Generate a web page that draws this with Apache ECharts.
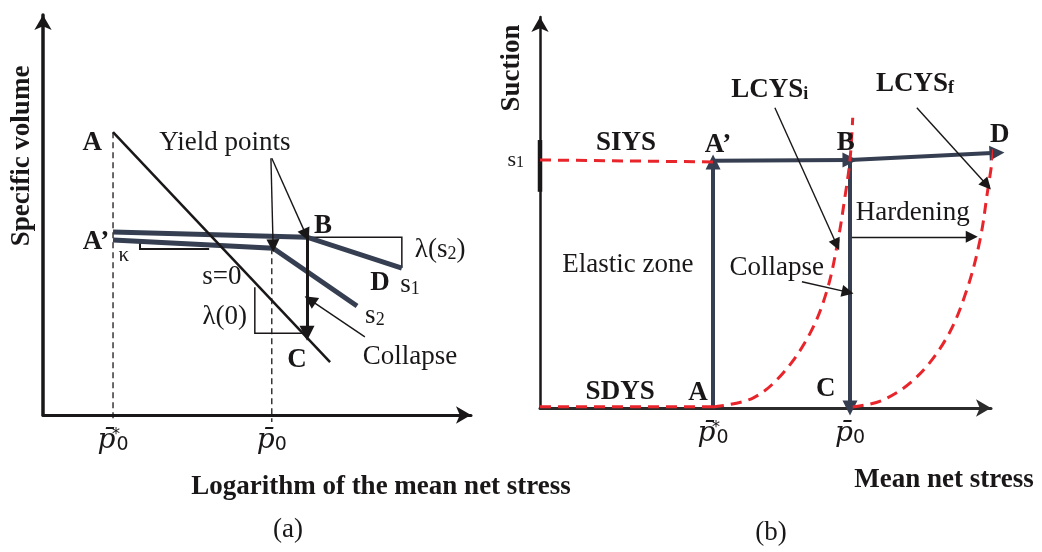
<!DOCTYPE html>
<html><head><meta charset="utf-8">
<script src="https://cdn.jsdelivr.net/npm/echarts@6/dist/echarts.min.js"></script>
<style>html,body{margin:0;padding:0;background:#fff}#c{width:1042px;height:552px}</style>
</head><body><div id="c"></div>
<script>
// ================= DATA =================
// Panel (a): specific volume vs log mean net stress (axis units 0..100)
const aTickValues = [16.1, 52.6];          // p0*, p0
const aTickNames  = ['p0*', 'p0'];
const aLineSat    = [[16.1, 69.5], [66.0, 13.0]];               // s = 0 (A -> C)
const aLineS1     = [[16.1, 45.0], [60.7, 43.7], [82.5, 36.1]]; // s1 (A' -> B -> D)
const aLineS2     = [[16.1, 43.0], [52.9, 41.0], [72.2, 26.8]]; // s2
const aDashP0s    = [[16.1, 69.5], [16.1, -1.7]];
const aDashP0     = [[52.6, 41.0], [52.6, -1.7]];
const aTriLambda0 = [[48.7, 31.4], [48.7, 20.1], [60.9, 20.1]];
const aTriLambdaS = [[60.7, 43.7], [82.5, 43.7], [82.5, 36.1]];
const aTriKappa   = [[22.3, 42.6], [22.3, 40.8], [38.2, 40.8]];
const aCollapseBC = [[[60.7, 43.7], [60.7, 20.1]]];
const aYieldArrows = [[[52.4, 63.1], [52.9, 41.6]], [[52.6, 63.1], [60.5, 44.2]]];
const aCollapseArrow = [[[74.0, 19.2], [61.4, 28.3]]];
const aNotes = [
  ['A', 11.3, 66.8, 'b'], ['A\u2019', 12.2, 42.5, 'b'], ['\u03ba', 18.6, 39.1, 'k'],
  ['Yield points', 41.8, 66.8, 'r'], ['B', 64.4, 46.4, 'b'], ['\u03bb(s_2)', 91.3, 40.5, 'r'],
  ['D', 77.5, 32.4, 'b'], ['s_1', 84.4, 31.9, 'r'], ['s=0', 41.1, 33.9, 'r'],
  ['\u03bb(0)', 41.8, 24.1, 'r'], ['s_2', 76.3, 24.3, 'r'], ['C', 58.4, 13.5, 'b'],
  ['Collapse', 84.4, 14.3, 'r']
];

// Panel (b): suction vs mean net stress (axis units 0..100)
const bTickValues = [37.8, 67.7];
const bTickNames  = ['p0*', 'p0'];
const bSuctionValues = [62.3];
const bSuctionNames  = ['s_1'];
const bSIYS   = [[0, 62.3], [37.8, 61.8]];
const bSDYS   = [[0, 0.3], [37.8, 0.3]];
const bLCYSi  = [[37.8, 0.25], [46.5, 2.5], [53.1, 8.8], [59.0, 18.8], [62.7, 29.6], [65.1, 42.2], [66.6, 53.0], [67.7, 62.3], [68.3, 72.9]];
const bLCYSf  = [[68.3, 0.25], [74.9, 2.0], [82.3, 7.8], [88.9, 17.8], [93.2, 29.6], [96.1, 42.2], [97.8, 54.8], [99.1, 64.8], [99.8, 71.6]];
const bStressPath = [
  [[37.8, 0], [37.8, 61.8]],     // A -> A'
  [[37.8, 62.1], [67.7, 62.3]],  // A' -> B
  [[67.7, 62.3], [99.8, 64.1]],  // B -> D
  [[67.7, 62.3], [67.7, 0]]      // B -> C
];
const bThinArrows = [
  [[51.3, 75.4], [64.8, 41.0]],  // LCYSi
  [[82.3, 75.4], [97.6, 56.0]],  // LCYSf
  [[68.1, 43.0], [94.3, 43.0]],  // Hardening
  [[57.2, 31.7], [67.2, 29.1]]   // Collapse
];
const bAxisThick = [[0, 54.3], [0, 67.3]];
const bNotes = [
  ['SIYS', 18.8, 66.6, 'b'], ['A\u2019', 38.9, 66.1, 'b'], ['B', 66.8, 66.6, 'b'], ['D', 100.4, 68.6, 'b'],
  ['LCYS_i', 50.2, 79.9, 'b'], ['LCYS_f', 81.9, 81.4, 'b'], ['Hardening', 81.4, 49.0, 'r'],
  ['Elastic zone', 19.2, 35.9, 'r'], ['Collapse', 51.7, 35.2, 'r'], ['SDYS', 17.5, 4.0, 'b'],
  ['A', 34.5, 3.8, 'b'], ['C', 62.4, 4.8, 'b']
];

const titles = [
  ['Specific volume', 22, 156, true], ['Logarithm of the mean net stress', 381, 487, false],
  ['Suction', 512, 68, true], ['Mean net stress', 944, 480, false]
];
const captions = [['(a)', 288, 530], ['(b)', 771, 533]];

// ================= STYLE / BUILD =================
const FONT = '"Liberation Serif", "Times New Roman", serif';
const INK = '#1a1718', BLUE = '#353f51', RED = '#e8252b';

function tok(size, weight, extra) {
  return Object.assign({ fontFamily: FONT, fontSize: size, fontWeight: weight || 'normal', color: INK,
    textBorderWidth: 0, opacity: 1, verticalAlign: 'bottom' }, extra || {});
}
const richBase = {
  r: tok(27), rsub: tok(18), b: tok(27, 'bold'), bsub: tok(18, 'bold'), k: tok(21), ksub: tok(14)
};
function toRich(t, w) {
  return t.split(/_(.)/).map((p, k) => p === '' ? '' : (k % 2 ? `{${w}sub|${p}}` : `{${w}|${p}}`)).join('');
}
const pRich = {
  p: { fontFamily: '"DejaVu Serif", serif', fontStyle: 'italic', fontSize: 28, color: INK, verticalAlign: 'bottom' },
  z: { fontFamily: '"DejaVu Sans", sans-serif', fontSize: 19, color: INK, verticalAlign: 'bottom' },
  st: { fontFamily: '"DejaVu Sans", sans-serif', fontSize: 16, color: INK, verticalAlign: 'top', width: 1, align: 'left' }
};
function pLabel(name) {
  return name === 'p0*' ? '{p|p\u0304}{st|*}{z|0}' : '{p|p\u0304}{z|0}';
}

function lineS(gi, data, color, width, type, smooth, z) {
  return { type: 'line', xAxisIndex: gi, yAxisIndex: gi, data, symbol: 'none', smooth: smooth || false,
    clip: false, silent: true, z: z || 2, animation: false,
    lineStyle: { color, width, type: type || 'solid', cap: 'butt', join: 'miter' } };
}
function arrowS(gi, segs, color, width, size, z) {
  return { type: 'lines', coordinateSystem: 'cartesian2d', xAxisIndex: gi, yAxisIndex: gi,
    data: segs.map(s => ({ coords: s })), symbol: ['none', 'triangle'], symbolSize: size,
    clip: false, silent: true, z: z || 3, animation: false,
    lineStyle: { color, width, opacity: 1, curveness: 0 } };
}
function notesS(gi, notes) {
  return { type: 'scatter', xAxisIndex: gi, yAxisIndex: gi, symbolSize: 0, clip: false, silent: true, z: 10,
    animation: false, itemStyle: { color: INK, opacity: 1 },
    data: notes.map(n => ({ value: [n[1], n[2]], name: n[0], w: n[3] })),
    label: { show: true, position: [0, 0], align: 'center', verticalAlign: 'middle', opacity: 1,
      color: INK, textBorderWidth: 0, rich: richBase,
      formatter: p => toRich(p.data.name, p.data.w) } };
}

function axisPair(gi, xMax, yMax, xTicks, xNames, yTicks, yNames, xW, yW, xColor) {
  const x = { type: 'value', gridIndex: gi, min: 0, max: xMax, splitLine: { show: false },
    axisTick: { show: false },
    axisLine: { show: true, onZero: false, symbol: ['none', 'arrow'], symbolSize: [13, 15],
      lineStyle: { color: xColor, width: xW } },
    axisLabel: { show: true, customValues: xTicks, margin: 12, color: INK, rich: pRich,
      formatter: v => pLabel(xNames[xTicks.indexOf(v)]) } };
  const y = { type: 'value', gridIndex: gi, min: 0, max: yMax, splitLine: { show: false },
    axisTick: { show: false },
    axisLine: { show: true, onZero: false, symbol: ['none', 'arrow'], symbolSize: [13, 15],
      lineStyle: { color: INK, width: yW } },
    axisLabel: yTicks ? { show: true, customValues: yTicks, margin: 16, color: INK,
      rich: { r: tok(22), rsub: tok(16) },
      formatter: v => toRich(yNames[yTicks.indexOf(v)], 'r') } : { show: false } };
  return [x, y];
}

const [ax, ay] = axisPair(0, 98.4, 98.3, aTickValues, aTickNames, null, null, 3, 3.5, INK);
const [bx, by] = axisPair(1, 98.5, 98.2, bTickValues, bTickNames, bSuctionValues, bSuctionNames, 3, 2.5, '#2b2b2b');

const graphic = titles.map(t => ({
  type: 'text', x: t[1], y: t[2], rotation: t[3] ? Math.PI / 2 : 0,
  style: { text: t[0], font: `bold 27px ${FONT}`, fill: INK, align: 'center', verticalAlign: 'middle',
    textAlign: 'center', textVerticalAlign: 'middle' }
})).concat(captions.map(c => ({
  type: 'text', x: c[1], y: c[2],
  style: { text: c[0], font: `27px ${FONT}`, fill: INK, align: 'center', verticalAlign: 'middle',
    textAlign: 'center', textVerticalAlign: 'middle' }
})));

const option = {
  backgroundColor: '#fff',
  animation: false,
  grid: [
    { left: 43, top: 15, width: 428, height: 400, containLabel: false, outerBoundsMode: 'none' },
    { left: 540, top: 17, width: 451, height: 391, containLabel: false, outerBoundsMode: 'none' }
  ],
  xAxis: [ax, bx],
  yAxis: [ay, by],
  graphic,
  series: [
    // panel (a)
    lineS(0, aDashP0s, INK, 1.3, [6, 4]),
    lineS(0, aDashP0, INK, 1.3, [6, 4]),
    lineS(0, aTriLambda0, INK, 1.5),
    lineS(0, aTriLambdaS, INK, 1.5),
    lineS(0, aTriKappa, INK, 2),
    lineS(0, aLineS1, BLUE, 5, 'solid', false, 3),
    lineS(0, aLineS2, BLUE, 5, 'solid', false, 3),
    lineS(0, aLineSat, INK, 2.5, 'solid', false, 4),
    arrowS(0, aCollapseBC, INK, 3, 15, 5),
    arrowS(0, aYieldArrows, INK, 1.4, 13, 5),
    arrowS(0, aCollapseArrow, INK, 1.4, 13, 5),
    notesS(0, aNotes),
    // panel (b)
    lineS(1, bAxisThick, INK, 4.5),
    arrowS(1, bStressPath, BLUE, 4, 15, 3),
    lineS(1, bSIYS, RED, 3, [11, 7], false, 4),
    lineS(1, bSDYS, RED, 3, [11, 7], false, 4),
    lineS(1, bLCYSi, RED, 3, [11, 7], 0.35, 4),
    lineS(1, bLCYSf, RED, 3, [11, 7], 0.35, 4),
    arrowS(1, bThinArrows, INK, 1.4, 12, 5),
    notesS(1, bNotes)
  ]
};
const chart = echarts.init(document.getElementById('c'), null, { renderer: 'canvas' });
chart.setOption(option);
</script></body></html>
